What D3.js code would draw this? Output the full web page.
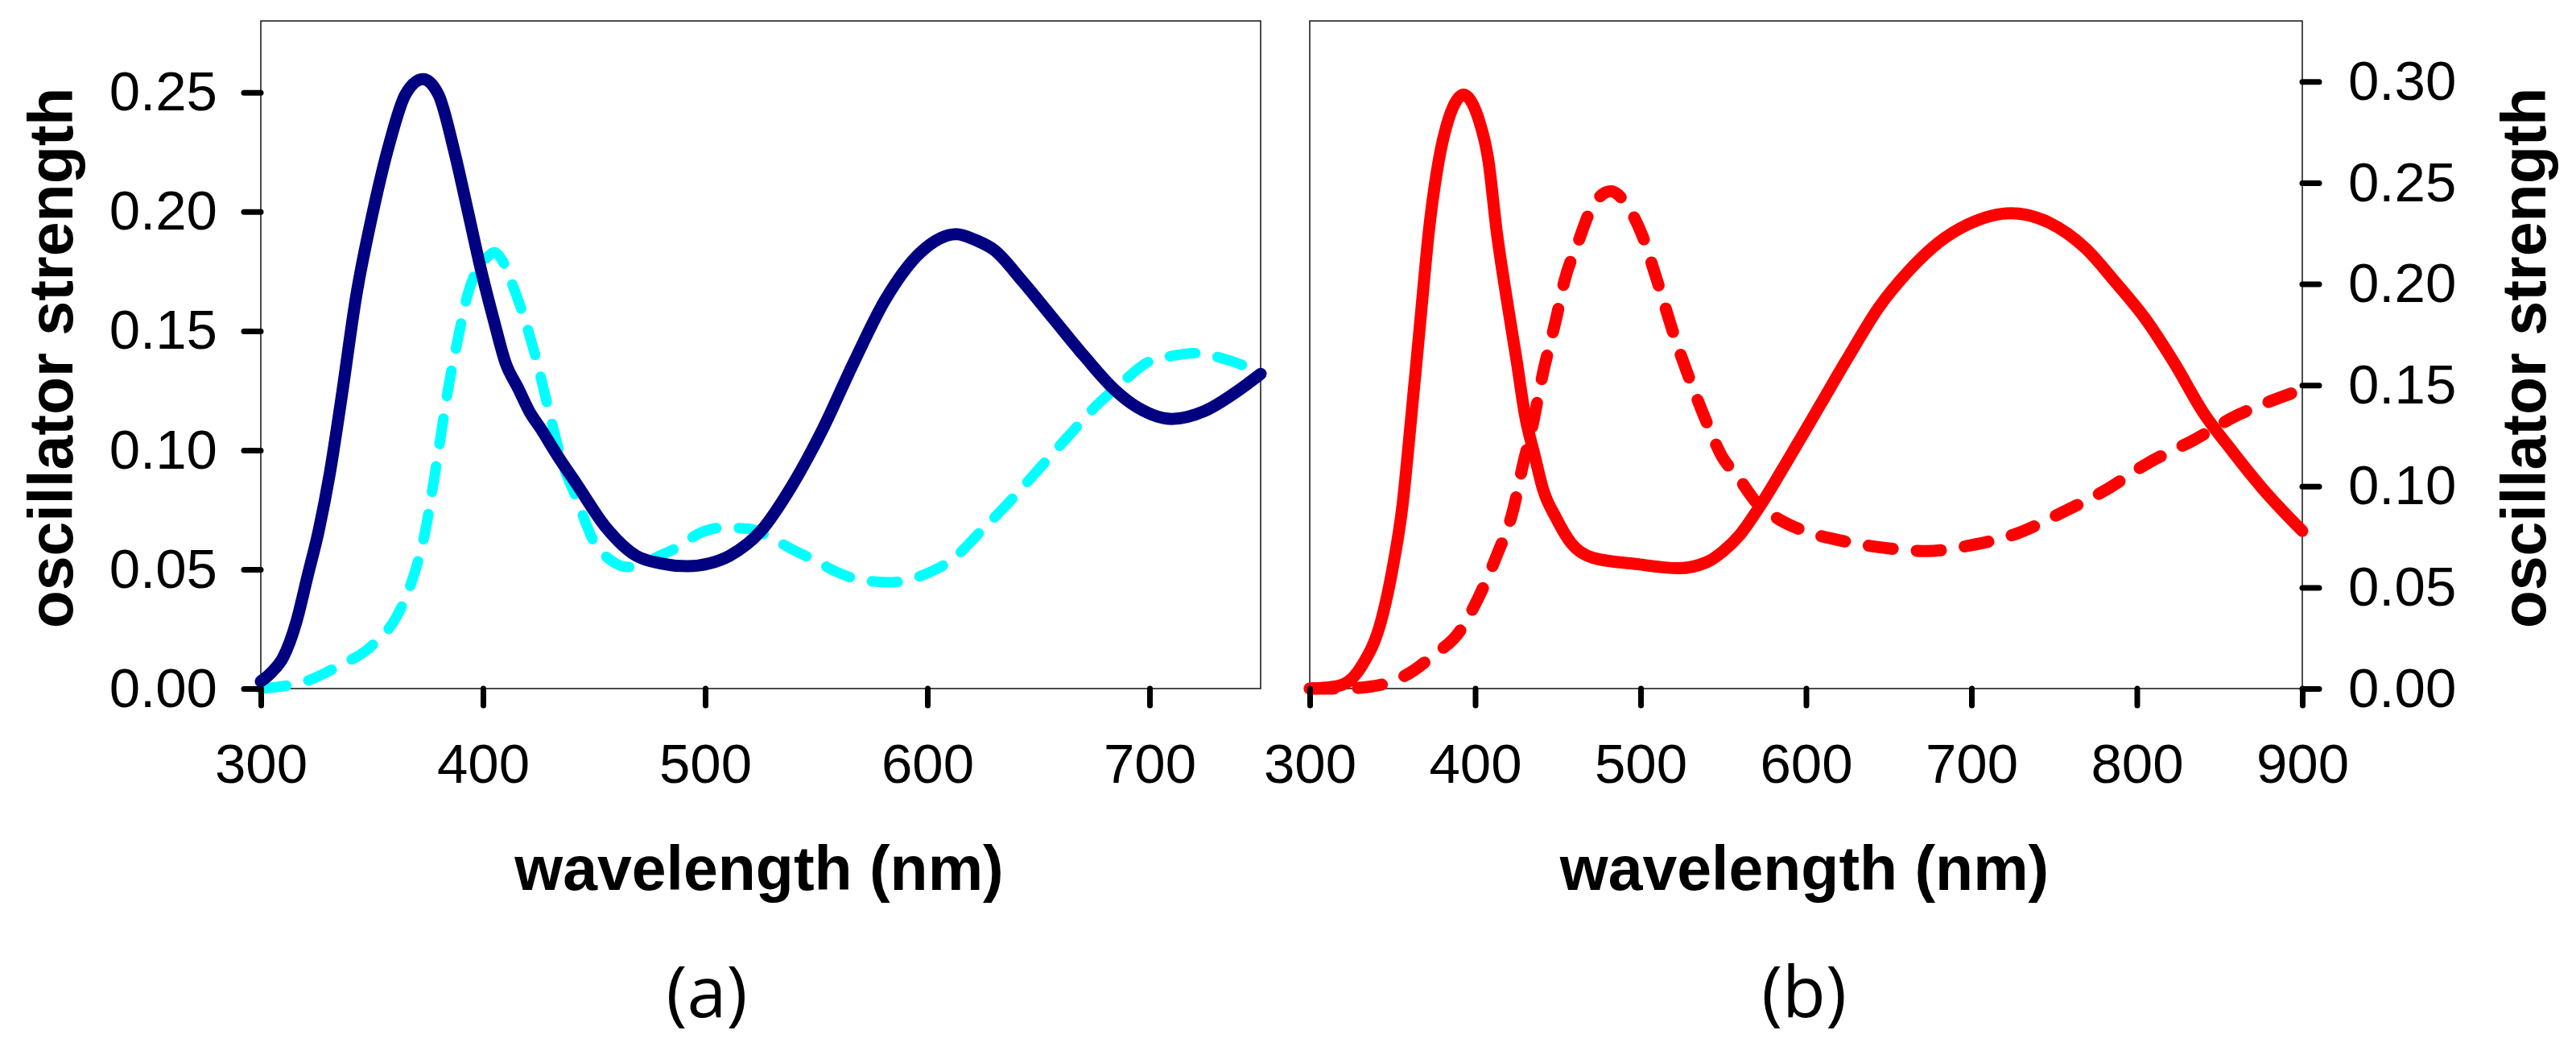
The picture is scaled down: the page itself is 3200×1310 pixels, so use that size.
<!DOCTYPE html>
<html>
<head>
<meta charset="utf-8">
<script src="https://cdn.jsdelivr.net/npm/d3@7"></script>
<style>
  body { margin: 0; background: #fff; }
  svg { display: block; background: #fff; }
</style>
</head>
<body>
<svg id="chart" width="3200" height="1310"></svg>
<script>
// panel (a): wavelength (nm) / oscillator strength
const waveA1 = [300, 305, 310, 316, 321, 326, 331, 336, 343, 350, 358, 365, 373, 380, 387, 393, 399, 405, 410, 416, 421, 426, 434, 442, 455, 469, 480, 492, 502, 511, 525, 539, 553, 567, 581, 597, 613, 622, 630, 643, 657, 671, 684, 695, 710, 725, 739, 750];
const oscA1  = [0.003, 0.007, 0.013, 0.028, 0.047, 0.066, 0.090, 0.120, 0.165, 0.198, 0.229, 0.249, 0.2556, 0.249, 0.2256, 0.201, 0.176, 0.154, 0.137, 0.1256, 0.116, 0.109, 0.097, 0.086, 0.068, 0.0557, 0.0525, 0.0513, 0.0525, 0.0557, 0.066, 0.085, 0.109, 0.137, 0.163, 0.183, 0.1906, 0.188, 0.184, 0.1706, 0.1548, 0.139, 0.1256, 0.1177, 0.1131, 0.1165, 0.1244, 0.132];

const waveA2 = [300, 310, 320, 334, 350, 361, 366, 370, 374, 378, 381, 384, 389, 393, 397, 402, 405, 409, 413, 418, 424, 429, 436, 442, 450, 458, 465, 470, 478, 489, 497, 508, 520, 531, 540, 550, 559, 570, 584, 600, 611, 624, 638, 650, 664, 675, 687, 699, 710, 720, 735, 750];
const oscA2  = [0.0, 0.001, 0.003, 0.009, 0.018, 0.030, 0.040, 0.051, 0.066, 0.088, 0.106, 0.124, 0.148, 0.165, 0.175, 0.181, 0.183, 0.179, 0.170, 0.157, 0.138, 0.119, 0.094, 0.080, 0.0614, 0.0535, 0.051, 0.0513, 0.055, 0.060, 0.065, 0.0675, 0.067, 0.0625, 0.058, 0.0535, 0.049, 0.0456, 0.0446, 0.0484, 0.054, 0.0659, 0.0794, 0.0919, 0.1064, 0.1177, 0.1278, 0.1368, 0.1395, 0.1407, 0.1379, 0.1324];

// panel (b)
const waveB1 = [300, 310, 320, 332, 343, 350, 356, 361, 367, 372, 378, 384, 389, 393, 397, 402, 408, 413, 419, 425, 430, 436, 441, 449, 458, 471, 497, 523, 540, 550, 560, 572, 590, 608, 626, 644, 662, 680, 698, 724, 747, 769, 787, 805, 823, 840, 858, 876, 900];
const oscB1  = [0.0, 0.0005, 0.002, 0.012, 0.033, 0.059, 0.090, 0.131, 0.183, 0.226, 0.261, 0.2817, 0.291, 0.2936, 0.291, 0.2817, 0.261, 0.226, 0.193, 0.1625, 0.1357, 0.115, 0.0986, 0.0842, 0.0719, 0.0647, 0.0616, 0.0595, 0.0625, 0.068, 0.076, 0.090, 0.1143, 0.1394, 0.1645, 0.1884, 0.2064, 0.2204, 0.2295, 0.235, 0.2303, 0.2176, 0.2009, 0.1829, 0.1604, 0.1366, 0.117, 0.0988, 0.0779];

const waveB2 = [300, 320, 337, 348, 363, 374, 391, 402, 413, 423, 429, 434, 441, 449, 454, 462, 471, 482, 492, 501, 510, 521, 531, 540, 549, 559, 570, 584, 599, 622, 648, 673, 700, 727, 753, 780, 807, 834, 861, 880, 900];
const oscB2  = [0.0, 0.0, 0.001, 0.003, 0.009, 0.016, 0.0287, 0.045, 0.0657, 0.0884, 0.111, 0.1275, 0.156, 0.183, 0.2016, 0.220, 0.2386, 0.2458, 0.2386, 0.224, 0.2016, 0.1727, 0.150, 0.1315, 0.115, 0.1044, 0.092, 0.0835, 0.0779, 0.073, 0.0695, 0.068, 0.0709, 0.0765, 0.0863, 0.0976, 0.1116, 0.1227, 0.1352, 0.1418, 0.1478];

const xTicksA = [300, 400, 500, 600, 700];
const xTicksB = [300, 400, 500, 600, 700, 800, 900];
const yTicksA = [0, 0.05, 0.10, 0.15, 0.20, 0.25];
const yTicksB = [0, 0.05, 0.10, 0.15, 0.20, 0.25, 0.30];

const xLabel = "wavelength (nm)";
const yLabel = "oscillator strength";

const svg = d3.select("#chart");
const tickFont = "Liberation Sans, Arial, sans-serif";

function drawPanel(p) {
  const x = d3.scaleLinear().domain(p.xDomain).range([p.left, p.right]);
  const y = d3.scaleLinear().domain(p.yDomain).range([p.bottom, p.top]);
  const g = svg.append("g");

  g.append("rect")
    .attr("x", p.left).attr("y", p.top)
    .attr("width", p.right - p.left).attr("height", p.bottom - p.top)
    .attr("fill", "none").attr("stroke", "#000").attr("stroke-width", 1.4);

  const line = d3.line()
    .x(d => x(d[0]))
    .y(d => y(d[1]))
    .curve(d3.curveMonotoneX);

  p.series.forEach(s => {
    g.append("path")
      .datum(d3.zip(s.wave, s.osc))
      .attr("d", line)
      .attr("fill", "none")
      .attr("stroke", s.color)
      .attr("stroke-width", s.width)
      .attr("stroke-linecap", "round")
      .attr("stroke-linejoin", "round")
      .attr("stroke-dasharray", s.dash || null);
  });

  const xAxis = d3.axisBottom(x)
    .tickValues(p.xTicks)
    .tickFormat(d3.format("d"))
    .tickSizeInner(21).tickSizeOuter(0).tickPadding(47);

  const gx = g.append("g")
    .attr("transform", `translate(0,${p.bottom})`)
    .call(xAxis);

  const yAxis = (p.yRight ? d3.axisRight(y) : d3.axisLeft(y))
    .tickValues(p.yTicks)
    .tickFormat(d3.format(".2f"))
    .tickSizeInner(21).tickSizeOuter(0).tickPadding(p.yRight ? 36 : 33);

  const gy = g.append("g")
    .attr("transform", `translate(${p.yRight ? p.right : p.left},0)`)
    .call(yAxis);

  [gx, gy].forEach(a => {
    a.select(".domain").remove();
    a.attr("font-family", tickFont).attr("font-size", 69);
    a.selectAll(".tick line")
      .attr("stroke-width", 7)
      .attr("stroke-linecap", "round");
    a.selectAll(".tick text").attr("fill", "#000");
  });

  g.append("text")
    .attr("x", (p.left + p.right) / 2 - 2)
    .attr("y", 1105)
    .attr("text-anchor", "middle")
    .attr("font-family", tickFont)
    .attr("font-weight", "bold")
    .attr("font-size", 77)
    .text(xLabel);

  g.append("text")
    .attr("transform", `translate(${p.yLabelX},${(p.top + p.bottom) / 2 + 4}) rotate(-90)`)
    .attr("text-anchor", "middle")
    .attr("font-family", tickFont)
    .attr("font-weight", "bold")
    .attr("font-size", 77)
    .text(yLabel);

  g.append("text")
    .attr("x", p.tagX)
    .attr("y", 1263)
    .attr("text-anchor", "middle")
    .attr("font-family", "Open Sans, Liberation Sans, sans-serif")
    .attr("font-size", 88)
    .text(p.tag);
}

drawPanel({
  left: 324, right: 1566, top: 26, bottom: 855,
  xDomain: [300, 750], yDomain: [0, 0.28],
  xTicks: xTicksA, yTicks: yTicksA, yRight: false,
  yLabelX: 90, tagX: 878, tag: "(a)",
  series: [
    { wave: waveA2, osc: oscA2, color: "#00FFFF", width: 13, dash: "32,28" },
    { wave: waveA1, osc: oscA1, color: "#000080", width: 15 }
  ]
});

drawPanel({
  left: 1627, right: 2860, top: 26, bottom: 855,
  xDomain: [300, 900], yDomain: [0, 0.33],
  xTicks: xTicksB, yTicks: yTicksB, yRight: true,
  yLabelX: 3162, tagX: 2241, tag: "(b)",
  series: [
    { wave: waveB2, osc: oscB2, color: "#FF0000", width: 15, dash: "30,30" },
    { wave: waveB1, osc: oscB1, color: "#FF0000", width: 15 }
  ]
});
</script>
</body>
</html>
